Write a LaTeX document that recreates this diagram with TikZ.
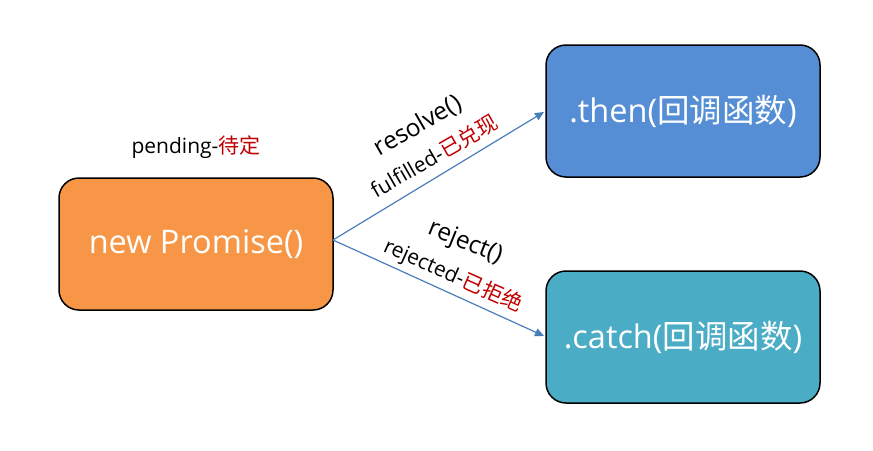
\documentclass[tikz,border=0pt]{standalone}
\usepackage{fontspec}
\setmainfont{Open Sans}
\newfontfamily\zhfont{Noto Sans CJK SC}
\usetikzlibrary{arrows.meta}
\definecolor{boxorange}{HTML}{F79646}
\definecolor{boxblue}{HTML}{558ED5}
\definecolor{boxteal}{HTML}{4BACC6}
\definecolor{arrowblue}{HTML}{4A7EBB}
\definecolor{zhred}{HTML}{C00000}
\newcommand{\zhr}[1]{{\zhfont\color{zhred}#1}}
\begin{document}
\begin{tikzpicture}[x=1pt,y=-1pt,
  box/.style={draw=black,line width=1.5pt,rounded corners=20pt,minimum width=274pt,minimum height=132pt,inner sep=0pt,text=white,font=\fontsize{32.5}{36}\selectfont},
  conn/.style={draw=arrowblue,line width=1.2pt,-{Triangle[length=9pt,width=8pt]}},
  lbl/.style={inner sep=0pt,font=\fontsize{24.5}{28}\selectfont},
  sublbl/.style={inner sep=0pt,font=\fontsize{21}{24}\selectfont}]
\useasboundingbox (0,0) rectangle (873,450);
\node[box,fill=boxorange] (p) at (196,244) {new Promise()};
\node[box,fill=boxblue] (t) at (683,111) {.then({\zhfont 回调函数})};
\node[box,fill=boxteal] (c) at (683,337) {.catch({\zhfont 回调函数})};
\node[sublbl] (pend) at (196,147) {pending-\zhr{待定}};
\coordinate (s) at (333,240);
\coordinate (te) at (544,112);
\coordinate (ce) at (544,336);
\draw[conn] (s) -- (te);
\draw[conn] (s) -- (ce);
\node[lbl,rotate=30] (res) at (418,126) {resolve()};
\node[sublbl,rotate=30] (ful) at (434,156) {fulfilled-\zhr{已兑现}};
\node[lbl,rotate=-22] (rej) at (465,243) {reject()};
\node[sublbl,rotate=-24] (rjd) at (453,276) {rejected-\zhr{已拒绝}};
\end{tikzpicture}
\end{document}
